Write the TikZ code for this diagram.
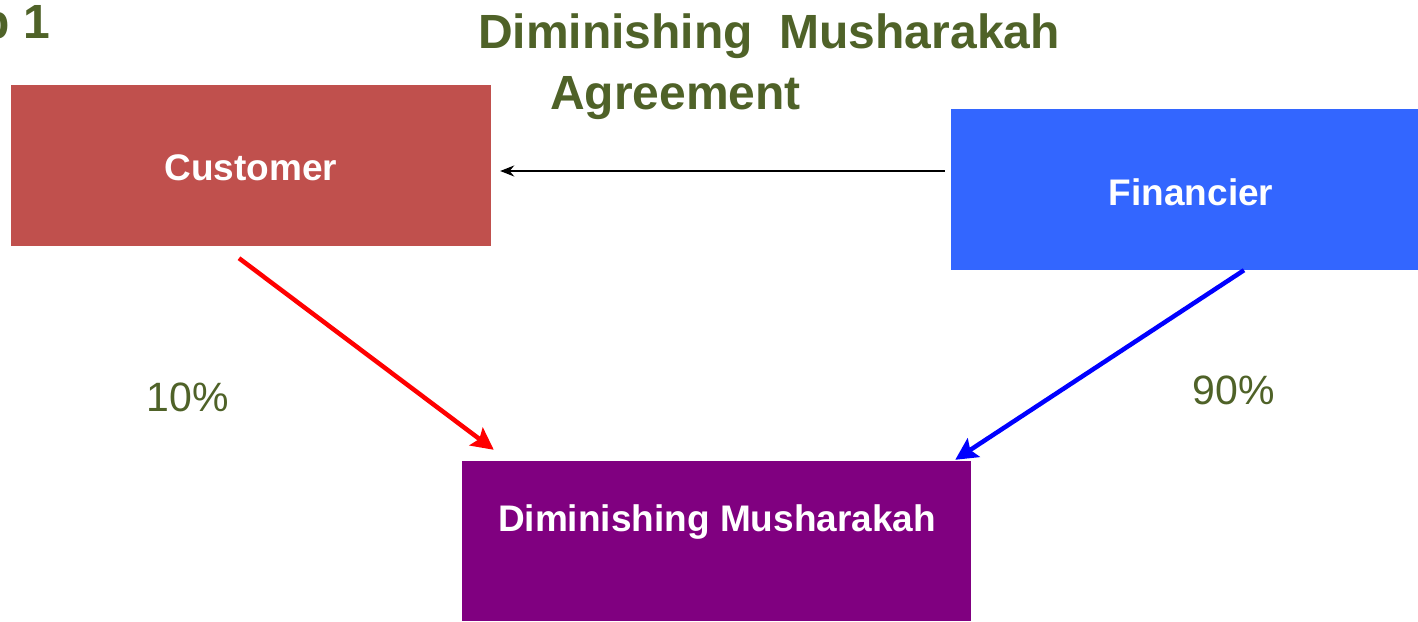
\documentclass[tikz,border=0pt]{standalone}
\usepackage{fontspec}
\setmainfont{Liberation Sans}
\usetikzlibrary{arrows.meta,calc}
\definecolor{olive}{RGB}{79,98,40}
\definecolor{custred}{RGB}{192,80,77}
\definecolor{finblue}{RGB}{51,102,255}
\definecolor{dmpurple}{RGB}{128,0,128}
\tikzset{
  box/.style={draw=none, inner sep=0pt, anchor=center},
  boxtext/.style={text=white, font=\fontsize{37}{44}\selectfont\bfseries, inner sep=0pt},
  pct/.style={text=olive, font=\fontsize{41}{48}\selectfont, inner sep=0pt},
  titletext/.style={text=olive, font=\fontsize{48}{58}\selectfont\bfseries, inner sep=0pt, anchor=base},
  thickarrow/.style={line width=4.5pt, -{Stealth[length=22pt,width=22pt,inset=4pt]}},
}
\begin{document}
\begin{tikzpicture}[x=1pt,y=-1pt]
\useasboundingbox (0,0) rectangle (1418,621);
% step label (cut at the left edge, as in the reference)
\node[titletext, anchor=base east] (step) at (50,38) {p 1};
% title
\node[titletext] (title1) at (769,48) {Diminishing\ \ Musharakah};
\node[titletext] (title2) at (675.5,109) {Agreement};
% boxes
\node[box, fill=custred, minimum width=480pt, minimum height=161pt] (cust) at (251,165.5) {};
\node[boxtext] (custtext) at (251,168) {Customer};
\node[box, fill=finblue, minimum width=467pt, minimum height=161pt] (fin) at (1184.5,189.5) {};
\node[boxtext] (fintext) at (1191,192) {Financier};
\node[box, fill=dmpurple, minimum width=509pt, minimum height=160pt] (dm) at (716.5,541) {};
\node[boxtext] (dmtext) at (717,522) {Diminishing Musharakah};
% percentages
\node[pct] (p10) at (188,397) {10\%};
\node[pct] (p90) at (1234,390) {90\%};
% connectors
\draw[line width=1.5pt, -{Stealth[length=14pt,width=11pt]}] ($(fin.west)+(-6,-18.5)$) -- ($(cust.east)+(9,5.5)$);
\draw[thickarrow, red] ($(cust.south)+(-12,12)$) -- ($(dm.north west)+(32,-11)$);
\draw[thickarrow, blue] ($(fin.south)+(59.5,0)$) -- ($(dm.north east)+(-16,-1)$);
\end{tikzpicture}
\end{document}
